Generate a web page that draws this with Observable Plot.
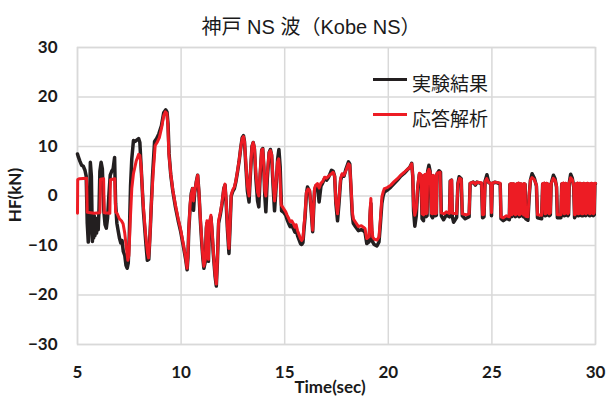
<!DOCTYPE html>
<html>
<head>
<meta charset="utf-8">
<script src="https://cdn.jsdelivr.net/npm/d3@7"></script>
<script src="https://cdn.jsdelivr.net/npm/@observablehq/plot@0.6"></script>
<style>
  body { margin: 0; background: #fff; }
  #chart { position: relative; width: 608px; height: 403px; overflow: hidden; }
  .lbl { position: absolute; white-space: nowrap; color: #1a1a1a; line-height: 1; }
  .title { font: 20px "Liberation Sans", "Noto Sans CJK JP", sans-serif; left: 311px; top: 11px; transform: translateX(-50%); }
  .axis { font: bold 17px Lato, "Liberation Sans", sans-serif; }
  .legend { font: 19px "Noto Sans CJK JP", sans-serif; left: 412px; }
  .swatch { position: absolute; left: 373px; width: 34px; height: 3px; }
</style>
</head>
<body>
<div id="chart"></div>
<script>
// Horizontal force (kN) vs time (s), Kobe NS record: test vs response analysis
const seriesNames = ["実験結果", "応答解析"];
const seriesColors = ["#231f20", "#ed1c24"];
const xTicks = [5, 10, 15, 20, 25, 30];
const yTicks = [-30, -20, -10, 0, 10, 20, 30];

// [time (s), HF (kN)] — measured test result
const experiment = [
  [5.00,8.5],[5.05,7.8],[5.12,7.0],[5.20,6.2],[5.28,6.0],[5.36,5.2],[5.42,4.0],[5.47,-5.5],[5.52,-9.3],[5.57,-6.0],
  [5.62,6.8],[5.67,4.0],[5.72,-9.2],[5.75,-4.5],[5.78,-8.5],[5.81,-4.0],[5.84,-8.0],[5.88,-4.5],[5.92,-7.5],[5.96,-5.0],
  [6.00,-6.8],[6.04,-2.5],[6.08,5.0],[6.14,6.8],
  [6.20,5.5],[6.27,-3.0],[6.33,-5.8],[6.39,-6.5],[6.45,-4.5],[6.52,0.5],[6.58,4.2],[6.65,5.0],[6.72,5.5],[6.79,7.8],
  [6.84,-1.5],[6.90,-5.5],[6.97,-7.2],[7.03,-8.6],[7.09,-9.5],[7.15,-9.0],[7.21,-11.2],[7.28,-12.0],[7.34,-14.0],[7.40,-14.6],
  [7.45,-13.5],[7.50,-8.0],[7.56,2.0],[7.62,7.5],[7.70,11.2],[7.78,11.0],[7.86,11.3],[7.95,11.6],[8.01,10.8],[8.07,6.0],
  [8.18,-3.0],[8.30,-9.5],[8.37,-13.0],[8.44,-12.8],[8.52,-6.0],[8.62,4.0],[8.72,11.0],[8.82,11.6],[8.93,12.6],[9.05,14.2],
  [9.16,16.8],[9.26,17.4],[9.32,17.0],[9.37,14.5],[9.42,8.5],[9.50,4.3],[9.60,1.0],[9.73,-2.3],[9.86,-5.0],[9.98,-7.2],
  [10.12,-10.4],[10.22,-12.8],[10.29,-14.9],[10.33,-12.5],[10.37,-7.0],[10.44,-2.0],[10.49,0.5],[10.55,1.5],[10.60,-2.9],[10.65,0.5],
  [10.73,2.8],[10.80,4.2],[10.86,0.8],[10.93,-5.0],[10.99,-9.0],[11.05,-12.6],[11.10,-14.6],[11.17,-13.2],[11.22,-6.5],[11.25,-5.5],
  [11.28,-12.0],[11.32,-13.2],[11.36,-6.0],[11.44,-4.3],[11.49,-7.0],[11.56,-12.0],[11.64,-16.2],[11.70,-18.2],[11.75,-13.5],[11.81,-5.5],
  [11.90,-3.6],[11.98,-1.5],[12.06,1.5],[12.12,2.2],[12.17,-1.0],[12.24,-7.0],[12.31,-11.6],[12.36,-6.5],[12.42,0.0],[12.50,1.0],
  [12.57,1.5],[12.64,2.8],[12.72,4.8],[12.80,7.0],[12.88,9.8],[12.95,11.8],[13.01,12.2],[13.06,11.0],[13.12,6.5],[13.20,1.0],
  [13.28,-1.2],[13.34,4.0],[13.42,10.0],[13.48,10.8],[13.54,9.5],[13.61,3.5],[13.69,-1.0],[13.75,-2.2],[13.82,4.5],[13.89,9.3],
  [13.94,9.6],[13.99,6.0],[14.04,0.0],[14.09,-3.2],[14.16,3.5],[14.25,8.8],[14.31,9.4],[14.37,8.2],[14.44,2.0],[14.51,-3.0],
  [14.58,1.5],[14.66,7.5],[14.72,9.4],[14.78,6.0],[14.85,-3.0],[14.95,-3.3],[15.05,-3.9],[15.12,-4.8],[15.20,-5.6],[15.26,-6.2],
  [15.34,-5.9],[15.42,-6.6],[15.49,-7.3],[15.55,-6.8],[15.62,-8.0],[15.70,-8.9],[15.76,-9.6],[15.82,-9.8],[15.88,-9.4],[15.93,-6.8],
  [15.98,-4.4],[16.05,0.5],[16.10,1.8],[16.20,1.0],[16.27,-2.5],[16.35,-7.2],[16.40,-2.5],[16.44,1.0],[16.50,2.0],[16.58,2.2],
  [16.66,-1.2],[16.75,2.0],[16.83,2.6],[16.93,3.6],[17.02,3.2],[17.12,3.8],[17.26,5.2],[17.34,5.0],[17.41,4.0],[17.47,-1.5],
  [17.55,-5.0],[17.62,-1.5],[17.70,3.2],[17.77,4.2],[17.86,4.0],[17.96,5.5],[18.08,6.9],[18.14,6.5],[18.20,1.5],[18.26,-3.8],
  [18.31,-5.5],[18.42,-6.2],[18.56,-7.0],[18.70,-6.8],[18.80,-7.0],[18.88,-7.4],[18.96,-9.6],[19.08,-9.2],[19.12,-4.0],[19.16,-1.5],
  [19.20,-7.0],[19.25,-9.3],[19.32,-9.8],[19.45,-10.1],[19.55,-9.3],[19.61,-6.2],[19.69,-1.5],[19.75,0.0],[19.81,0.8],[19.95,1.2],
  [20.12,1.8],[20.28,2.5],[20.44,3.2],[20.60,4.0],[20.77,4.6],[20.90,5.2],[21.04,5.8],[21.13,6.6],[21.18,4.0],[21.22,-3.0],
  [21.28,-6.1],[21.35,-4.0],[21.42,1.5],[21.50,4.4],[21.58,4.2],[21.63,-4.6],[21.70,-5.0],[21.73,4.0],[21.79,4.2],[21.82,-4.2],
  [21.87,-4.0],[21.90,5.0],[21.96,6.2],[22.02,5.0],[22.08,-4.0],[22.14,-4.4],[22.17,4.0],[22.22,3.8],[22.25,-4.0],[22.32,-3.9],
  [22.35,4.4],[22.45,5.1],[22.52,4.8],[22.56,-4.0],[22.67,-4.8],[22.80,-3.8],[22.95,-4.2],[22.99,3.0],[23.05,3.2],[23.09,-4.2],
  [23.15,-5.3],[23.30,-4.3],[23.36,2.5],[23.42,3.9],[23.52,3.5],[23.57,-4.0],[23.71,-4.6],[23.90,-4.2],[23.95,2.5],[24.10,2.8],
  [24.20,2.2],[24.28,2.8],[24.50,2.5],[24.55,-4.4],[24.62,-4.2],[24.67,3.0],[24.76,4.3],[24.85,2.7],[24.95,2.5],[24.98,-4.0],
  [25.02,2.5],[25.15,2.8],[25.30,2.6],[25.40,2.4],[25.44,-4.6],[25.55,-5.0],[25.70,-4.5],[25.84,-4.8],[25.87,2.3],[25.92,2.4],
  [25.95,-4.2],[26.00,-4.0],[26.03,2.4],[26.10,2.3],[26.13,-4.2],[26.18,-4.0],[26.21,2.4],[26.28,2.5],[26.31,-4.2],[26.36,-4.1],
  [26.39,2.4],[26.46,2.3],[26.49,-4.0],[26.53,-4.2],[26.56,2.4],[26.60,2.3],[26.63,-4.6],[26.74,-4.9],[26.80,0.0],[26.86,3.2],
  [26.94,4.5],[27.05,3.6],[27.15,2.0],[27.20,-4.4],[27.40,-4.6],[27.45,2.4],[27.52,2.5],[27.56,-4.0],[27.62,-3.9],[27.65,2.5],
  [27.72,2.3],[27.76,-4.0],[27.82,-3.8],[27.86,2.5],[27.97,4.2],[28.05,3.5],[28.12,1.8],[28.16,-4.4],[28.33,-4.4],[28.37,2.4],
  [28.44,2.5],[28.48,-4.0],[28.53,-3.9],[28.56,2.5],[28.62,2.3],[28.66,-4.0],[28.70,-3.8],[28.73,2.5],[28.80,4.4],[28.88,3.6],
  [28.95,1.8],[28.99,-4.4],[29.04,-4.0],[29.07,2.4],[29.13,2.5],[29.16,-4.0],[29.22,-3.9],[29.25,2.5],[29.30,2.4],[29.33,-4.0],
  [29.40,-4.0],[29.43,2.5],[29.50,2.4],[29.53,-4.0],[29.58,-3.8],[29.61,2.5],[29.68,2.4],[29.71,-4.0],[29.77,-3.9],[29.80,2.5],
  [29.86,2.4],[29.89,-4.0],[29.94,-3.8],[29.97,2.5],[30.00,2.5]
];

// [time (s), HF (kN)] — response analysis
const analysis = [
  [5.00,-3.5],[5.01,3.3],[5.10,3.5],[5.44,3.6],[5.47,-3.3],[5.80,-3.5],[6.08,-3.4],[6.11,3.4],[6.26,3.5],[6.29,-3.4],
  [6.56,-3.5],[6.59,3.3],[6.80,3.5],[6.84,-3.2],[6.92,-3.6],[7.02,-4.6],[7.12,-5.0],[7.20,-5.6],[7.28,-7.5],[7.36,-10.5],
  [7.43,-13.0],[7.48,-12.0],[7.54,-5.5],[7.62,1.5],[7.70,4.5],[7.83,7.0],[7.95,8.4],[8.01,8.2],[8.07,6.0],[8.16,-1.0],
  [8.28,-7.5],[8.38,-11.5],[8.43,-12.5],[8.49,-9.0],[8.56,-2.0],[8.65,4.5],[8.75,10.2],[8.84,10.8],[8.95,11.8],[9.06,13.8],
  [9.16,16.2],[9.24,17.0],[9.31,16.7],[9.36,14.5],[9.41,8.5],[9.50,4.5],[9.60,1.2],[9.73,-1.9],[9.86,-4.6],[9.98,-6.8],
  [10.12,-10.0],[10.22,-12.5],[10.29,-14.6],[10.33,-12.0],[10.37,-6.5],[10.44,-1.5],[10.49,0.3],[10.55,1.5],[10.60,-1.0],[10.65,0.8],
  [10.73,2.8],[10.80,4.2],[10.86,1.0],[10.93,-4.5],[10.99,-8.5],[11.05,-12.2],[11.10,-14.2],[11.17,-12.8],[11.22,-6.0],[11.25,-5.0],
  [11.28,-11.5],[11.32,-12.8],[11.36,-5.5],[11.44,-3.9],[11.49,-6.5],[11.56,-11.5],[11.64,-15.8],[11.70,-17.8],[11.75,-13.0],[11.81,-5.0],
  [11.90,-3.2],[11.98,-1.2],[12.06,1.5],[12.12,2.4],[12.17,-0.5],[12.24,-6.5],[12.31,-10.6],[12.36,-6.0],[12.42,0.3],[12.50,1.3],
  [12.57,1.8],[12.64,3.0],[12.72,5.0],[12.80,7.2],[12.88,9.8],[12.95,11.6],[13.01,12.0],[13.06,11.0],[13.12,7.0],[13.20,2.0],
  [13.28,0.0],[13.34,4.5],[13.42,10.0],[13.48,10.8],[13.54,9.8],[13.61,4.5],[13.69,0.8],[13.75,0.0],[13.82,5.0],[13.89,9.3],
  [13.94,9.5],[13.99,6.5],[14.04,1.0],[14.09,0.0],[14.16,4.5],[14.25,8.8],[14.31,9.2],[14.37,8.4],[14.44,3.0],[14.51,-1.0],
  [14.58,2.2],[14.65,6.8],[14.71,7.5],[14.76,5.0],[14.83,-1.8],[14.94,-2.5],[15.05,-3.2],[15.12,-3.9],[15.20,-4.6],[15.26,-5.2],
  [15.34,-5.0],[15.42,-5.6],[15.49,-6.3],[15.55,-5.8],[15.62,-7.0],[15.70,-7.9],[15.76,-8.6],[15.82,-9.0],[15.88,-8.6],[15.93,-6.0],
  [15.98,-3.8],[16.05,0.8],[16.12,1.4],[16.20,1.2],[16.27,-2.0],[16.35,-6.9],[16.40,-2.0],[16.44,1.5],[16.50,2.2],[16.58,2.5],
  [16.66,1.6],[16.75,2.6],[16.83,2.9],[16.93,3.8],[17.02,3.6],[17.12,4.0],[17.26,4.5],[17.34,4.8],[17.41,4.0],[17.47,-1.0],
  [17.55,-3.6],[17.62,-0.5],[17.70,3.6],[17.77,4.5],[17.86,4.2],[17.96,5.2],[18.08,6.5],[18.14,6.2],[18.20,2.0],[18.26,-3.0],
  [18.31,-4.6],[18.42,-5.3],[18.56,-6.2],[18.70,-6.0],[18.80,-6.3],[18.88,-6.6],[18.96,-8.6],[19.08,-8.2],[19.12,-3.0],[19.16,-0.5],
  [19.20,-6.0],[19.25,-8.3],[19.32,-8.7],[19.45,-8.9],[19.55,-8.3],[19.61,-5.2],[19.69,-0.2],[19.75,0.8],[19.81,1.5],[19.95,1.7],
  [20.12,2.2],[20.28,2.9],[20.44,3.5],[20.60,4.2],[20.77,4.8],[20.90,5.3],[21.04,5.8],[21.13,6.5],[21.18,4.0],[21.22,-2.0],
  [21.28,-3.9],[21.35,-2.5],[21.42,2.0],[21.50,4.6],[21.58,4.3],[21.63,-3.6],[21.70,-3.8],[21.73,4.2],[21.79,4.4],[21.82,-3.6],
  [21.87,-3.4],[21.90,4.8],[21.96,5.4],[22.02,4.8],[22.08,-3.5],[22.14,-3.6],[22.17,4.2],[22.22,4.0],[22.25,-3.6],[22.32,-3.5],
  [22.35,4.6],[22.50,4.8],[22.55,-3.4],[22.70,-3.6],[22.80,-3.2],[22.95,-3.5],[22.99,3.0],[23.06,3.2],[23.09,-3.5],[23.30,-3.6],
  [23.36,2.5],[23.44,3.6],[23.52,3.4],[23.57,-3.6],[23.75,-3.8],[23.90,-3.6],[23.95,2.6],[24.10,2.8],[24.20,2.4],[24.28,2.8],
  [24.50,2.7],[24.55,-3.8],[24.62,-3.7],[24.67,2.9],[24.75,3.5],[24.85,2.7],[24.95,2.6],[24.98,-3.4],[25.02,2.6],[25.15,2.8],
  [25.30,2.7],[25.40,2.6],[25.44,-4.2],[25.55,-4.4],[25.70,-4.0],[25.84,-4.2],[25.87,2.4],[25.92,2.5],[25.95,-3.8],[26.00,-3.6],
  [26.03,2.5],[26.10,2.4],[26.13,-3.8],[26.18,-3.6],[26.21,2.5],[26.28,2.6],[26.31,-3.8],[26.36,-3.7],[26.39,2.5],[26.46,2.4],
  [26.49,-3.6],[26.53,-3.8],[26.56,2.5],[26.60,2.4],[26.63,-4.1],[26.74,-4.2],[26.80,0.5],[26.86,3.2],[26.94,3.7],[27.05,3.3],
  [27.15,2.2],[27.20,-3.8],[27.40,-3.9],[27.45,2.5],[27.52,2.6],[27.56,-3.6],[27.62,-3.5],[27.65,2.6],[27.72,2.4],[27.76,-3.6],
  [27.82,-3.4],[27.86,2.5],[27.96,3.6],[28.05,3.2],[28.12,2.0],[28.16,-3.8],[28.33,-3.8],[28.37,2.5],[28.44,2.6],[28.48,-3.6],
  [28.53,-3.5],[28.56,2.6],[28.62,2.4],[28.66,-3.6],[28.70,-3.4],[28.73,2.6],[28.80,3.7],[28.88,3.3],[28.95,2.0],[28.99,-3.8],
  [29.04,-3.6],[29.07,2.5],[29.13,2.6],[29.16,-3.6],[29.22,-3.5],[29.25,2.6],[29.30,2.5],[29.33,-3.6],[29.40,-3.6],[29.43,2.6],
  [29.50,2.5],[29.53,-3.6],[29.58,-3.4],[29.61,2.6],[29.68,2.5],[29.71,-3.6],[29.77,-3.5],[29.80,2.6],[29.86,2.5],[29.89,-3.6],
  [29.94,-3.4],[29.97,2.6],[30.00,2.6]
];

const gridColor = "#d9d9d9";
const tickFont = {fontSize: 17, fontWeight: "bold", fontFamily: "Lato, 'Liberation Sans', sans-serif", fill: "#1a1a1a"};

const chart = Plot.plot({
  width: 608,
  height: 403,
  marginTop: 47,
  marginRight: 13,
  marginBottom: 59,
  marginLeft: 77,
  x: {domain: [5, 30]},
  y: {domain: [-30, 30]},
  marks: [
    Plot.gridX(xTicks, {stroke: gridColor, strokeOpacity: 1, strokeWidth: 1.5}),
    Plot.gridY(yTicks, {stroke: gridColor, strokeOpacity: 1, strokeWidth: 1.5}),
    Plot.frame({stroke: gridColor, strokeWidth: 1.5}),
    Plot.axisX(xTicks, {tickSize: 0, tickPadding: 21, label: null, ...tickFont}),
    Plot.axisY(yTicks, {tickSize: 0, tickPadding: 20, label: null, ...tickFont}),
    Plot.line(experiment, {x: d => d[0], y: d => d[1], stroke: seriesColors[0], strokeWidth: 3.5, strokeLinejoin: "round"}),
    Plot.line(analysis, {x: d => d[0], y: d => d[1], stroke: seriesColors[1], strokeWidth: 3, strokeLinejoin: "round"})
  ]
});

const root = document.getElementById("chart");
root.appendChild(chart);

function addLabel(cls, text, style) {
  const el = document.createElement("div");
  el.className = "lbl " + cls;
  el.textContent = text;
  Object.assign(el.style, style || {});
  root.appendChild(el);
  return el;
}

addLabel("title", "神戸 NS 波（Kobe NS）");
addLabel("axis", "Time(sec)", {left: "330px", top: "376px", transform: "translateX(-50%)"});
addLabel("axis", "HF(kN)", {left: "14px", top: "195px", transform: "translate(-50%,-50%) rotate(-90deg)"});

// legend
const legendRows = [79, 114];
seriesNames.forEach((name, i) => {
  const sw = document.createElement("div");
  sw.className = "swatch";
  sw.style.top = (legendRows[i] - 1.5) + "px";
  sw.style.background = seriesColors[i];
  root.appendChild(sw);
  addLabel("legend", name, {top: (legendRows[i] - 10) + "px"});
});
</script>
</body>
</html>
